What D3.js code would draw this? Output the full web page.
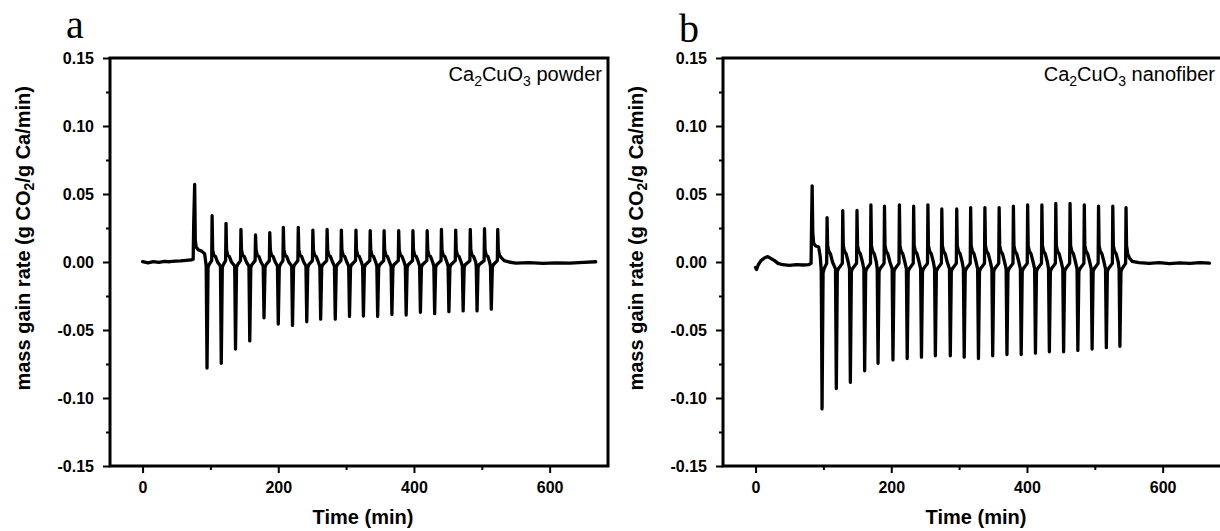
<!DOCTYPE html>
<html>
<head>
<meta charset="utf-8">
<script src="https://cdn.jsdelivr.net/npm/d3@7/dist/d3.min.js"></script>
<style>
  html, body { margin: 0; padding: 0; background: #fff; }
  svg { display: block; }
</style>
</head>
<body>
<svg id="chart" width="1220" height="531"></svg>
<script>
// Axis ticks shared by both panels
const yTicks = [0.15, 0.10, 0.05, 0.00, -0.05, -0.10, -0.15];
const yTickLabels = ["0.15", "0.10", "0.05", "0.00", "-0.05", "-0.10", "-0.15"];
const yMinorTicks = [0.125, 0.075, 0.025, -0.025, -0.075, -0.125];
const xTicks = [0, 200, 400, 600];
const xTickLabels = ["0", "200", "400", "600"];
const xMinorTicks = [100, 300, 500];

const panelLetters = ["a", "b"];
const sampleForms = ["powder", "nanofiber"];

// Ca2CuO3 powder: [time (min), mass gain rate (g CO2 / g Ca / min)]
const powderTrace = [
  [0,0.0003],[8,-0.0006],[16,0.0002],[24,-0.0003],[32,0.0004],[40,0.0002],[48,0.0006],[56,0.0008],[64,0.0012],[72,0.0015],
  [74.6,0.002],[75.4,0.029],[76.8,0.057],[77.7,0.016],[79,0.011],[82,0.009],[87,0.008],[91.5,0.006],
  [93.8,-0.003],[95,-0.078],[96.5,-0.004],[98,-0.002],[101.9,0.001],[102.5,0.034],[103.3,0.009],[105,0.005],[107.5,0.004],[110.5,0],
  [114.8,-0.003],[116,-0.0745],[117.5,-0.004],[119,-0.002],[122.4,0.001],[123,0.0284],[123.8,0.009],[125.5,0.005],[128,0.004],[131,0],
  [135.8,-0.003],[137,-0.064],[138.5,-0.004],[140,-0.002],[144.4,0.001],[145,0.024],[145.8,0.009],[147.5,0.005],[150,0.004],[153,0],
  [156.8,-0.003],[158,-0.058],[159.5,-0.004],[161,-0.002],[165.9,0.001],[166.5,0.0199],[167.3,0.009],[169,0.005],[171.5,0.004],[174.5,0],
  [177.8,-0.003],[179,-0.041],[180.5,-0.004],[182,-0.002],[186.9,0.001],[187.5,0.0216],[188.3,0.009],[190,0.005],[192.5,0.004],[195.5,0],
  [198.8,-0.003],[200,-0.0456],[201.5,-0.004],[203,-0.002],[206.9,0.001],[207.5,0.0255],[208.3,0.009],[210,0.005],[212.5,0.004],[215.5,0],
  [219.8,-0.003],[221,-0.0466],[222.5,-0.004],[224,-0.002],[228.9,0.001],[229.5,0.0255],[230.3,0.009],[232,0.005],[234.5,0.004],[237.5,0],
  [240.8,-0.003],[242,-0.044],[243.5,-0.004],[245,-0.002],[250.4,0.001],[251,0.0235],[251.8,0.009],[253.5,0.005],[256,0.004],[259,0],
  [261.3,-0.003],[262.5,-0.042],[264,-0.004],[265.5,-0.002],[271.4,0.001],[272,0.024],[272.8,0.009],[274.5,0.005],[277,0.004],[280,0],
  [282.8,-0.003],[284,-0.042],[285.5,-0.004],[287,-0.002],[292.4,0.001],[293,0.0235],[293.8,0.009],[295.5,0.005],[298,0.004],[301,0],
  [303.8,-0.003],[305,-0.040],[306.5,-0.004],[308,-0.002],[313.9,0.001],[314.5,0.0235],[315.3,0.009],[317,0.005],[319.5,0.004],[322.5,0],
  [324.3,-0.003],[325.5,-0.0397],[327,-0.004],[328.5,-0.002],[334.9,0.001],[335.5,0.023],[336.3,0.009],[338,0.005],[340.5,0.004],[343.5,0],
  [345.3,-0.003],[346.5,-0.040],[348,-0.004],[349.5,-0.002],[355.4,0.001],[356,0.023],[356.8,0.009],[358.5,0.005],[361,0.004],[364,0],
  [366.3,-0.003],[367.5,-0.0385],[369,-0.004],[370.5,-0.002],[376.9,0.001],[377.5,0.023],[378.3,0.009],[380,0.005],[382.5,0.004],[385.5,0],
  [387.3,-0.003],[388.5,-0.039],[390,-0.004],[391.5,-0.002],[397.9,0.001],[398.5,0.023],[399.3,0.009],[401,0.005],[403.5,0.004],[406.5,0],
  [408.3,-0.003],[409.5,-0.037],[411,-0.004],[412.5,-0.002],[418.9,0.001],[419.5,0.023],[420.3,0.009],[422,0.005],[424.5,0.004],[427.5,0],
  [429.3,-0.003],[430.5,-0.038],[432,-0.004],[433.5,-0.002],[439.9,0.001],[440.5,0.024],[441.3,0.009],[443,0.005],[445.5,0.004],[448.5,0],
  [450.3,-0.003],[451.5,-0.0365],[453,-0.004],[454.5,-0.002],[460.9,0.001],[461.5,0.0235],[462.3,0.009],[464,0.005],[466.5,0.004],[469.5,0],
  [471.3,-0.003],[472.5,-0.036],[474,-0.004],[475.5,-0.002],[482.4,0.001],[483,0.024],[483.8,0.009],[485.5,0.005],[488,0.004],[491,0],
  [491.8,-0.003],[493,-0.036],[494.5,-0.004],[496,-0.002],[503.4,0.001],[504,0.0245],[504.8,0.009],[506.5,0.005],[509,0.004],[511.5,0],
  [512.8,-0.003],[514,-0.0347],[515.5,-0.004],[517,-0.002],[522.9,0.001],[523.5,0.024],[524.3,0.009],[526,0.005],[529,0.003],[533,0.001],
  [540,0],[550,-0.0008],[570,-0.0005],[590,-0.001],[610,-0.0006],[630,-0.0008],[650,-0.0003],[668,0.0002]
];

// Ca2CuO3 nanofiber: [time (min), mass gain rate (g CO2 / g Ca / min)]
const nanofiberTrace = [
  [0,-0.004],[1.5,-0.0055],[4,-0.002],[8,0.001],[13,0.003],[18,0.004],[23,0.0025],[28,0.001],[33,-0.001],[40,-0.002],
  [50,-0.0025],[60,-0.002],[70,-0.0022],[78,-0.002],[81.8,-0.001],[82.6,0.03],[83.4,0.056],[84.3,0.022],[85.5,0.014],[88,0.012],[93,0.011],[95.3,0.004],
  [96.8,-0.006],[98,-0.108],[99.5,-0.008],[101,-0.005],[104.8,-0.001],[105.4,0.0326],[106.2,0.012],[107.9,0.008],[110.4,0.006],[113.4,0],
  [117.8,-0.005],[119,-0.093],[120.5,-0.007],[122,-0.005],[127.9,-0.001],[128.5,0.0377],[129.3,0.012],[131,0.008],[133.5,0.006],[136.5,0],
  [138.5,-0.005],[139.7,-0.0885],[141.2,-0.007],[142.7,-0.005],[148.9,-0.001],[149.5,0.0379],[150.3,0.012],[152,0.008],[154.5,0.006],[157.5,0],
  [159.6,-0.005],[160.8,-0.080],[162.3,-0.007],[163.8,-0.005],[169.4,-0.001],[170,0.042],[170.8,0.012],[172.5,0.008],[175,0.006],[178,0],
  [179.3,-0.005],[180.5,-0.0745],[182,-0.007],[183.5,-0.005],[189.4,-0.001],[190,0.041],[190.8,0.012],[192.5,0.008],[195,0.006],[198,0],
  [201.3,-0.005],[202.5,-0.072],[204,-0.007],[205.5,-0.005],[211.4,-0.001],[212,0.042],[212.8,0.012],[214.5,0.008],[217,0.006],[220,0],
  [222.3,-0.005],[223.5,-0.071],[225,-0.007],[226.5,-0.005],[232.4,-0.001],[233,0.041],[233.8,0.012],[235.5,0.008],[238,0.006],[241,0],
  [243.3,-0.005],[244.5,-0.070],[246,-0.007],[247.5,-0.005],[253.4,-0.001],[254,0.042],[254.8,0.012],[256.5,0.008],[259,0.006],[262,0],
  [263.8,-0.005],[265,-0.069],[266.5,-0.007],[268,-0.005],[273.9,-0.001],[274.5,0.039],[275.3,0.012],[277,0.008],[279.5,0.006],[282.5,0],
  [285.8,-0.005],[287,-0.069],[288.5,-0.007],[290,-0.005],[295.9,-0.001],[296.5,0.039],[297.3,0.012],[299,0.008],[301.5,0.006],[304.5,0],
  [306.3,-0.005],[307.5,-0.070],[309,-0.007],[310.5,-0.005],[316.4,-0.001],[317,0.040],[317.8,0.012],[319.5,0.008],[322,0.006],[325,0],
  [327.3,-0.005],[328.5,-0.071],[330,-0.007],[331.5,-0.005],[337.4,-0.001],[338,0.040],[338.8,0.012],[340.5,0.008],[343,0.006],[346,0],
  [348.3,-0.005],[349.5,-0.069],[351,-0.007],[352.5,-0.005],[358.4,-0.001],[359,0.040],[359.8,0.012],[361.5,0.008],[364,0.006],[367,0],
  [369.3,-0.005],[370.5,-0.068],[372,-0.007],[373.5,-0.005],[379.4,-0.001],[380,0.041],[380.8,0.012],[382.5,0.008],[385,0.006],[388,0],
  [390.3,-0.005],[391.5,-0.068],[393,-0.007],[394.5,-0.005],[400.4,-0.001],[401,0.042],[401.8,0.012],[403.5,0.008],[406,0.006],[409,0],
  [411.3,-0.005],[412.5,-0.067],[414,-0.007],[415.5,-0.005],[421.4,-0.001],[422,0.042],[422.8,0.012],[424.5,0.008],[427,0.006],[430,0],
  [431.8,-0.005],[433,-0.066],[434.5,-0.007],[436,-0.005],[441.9,-0.001],[442.5,0.043],[443.3,0.012],[445,0.008],[447.5,0.006],[450.5,0],
  [452.8,-0.005],[454,-0.066],[455.5,-0.007],[457,-0.005],[462.9,-0.001],[463.5,0.043],[464.3,0.012],[466,0.008],[468.5,0.006],[471.5,0],
  [473.8,-0.005],[475,-0.065],[476.5,-0.007],[478,-0.005],[483.9,-0.001],[484.5,0.042],[485.3,0.012],[487,0.008],[489.5,0.006],[492.5,0],
  [494.8,-0.005],[496,-0.064],[497.5,-0.007],[499,-0.005],[504.9,-0.001],[505.5,0.041],[506.3,0.012],[508,0.008],[510.5,0.006],[513.5,0],
  [515.8,-0.005],[517,-0.063],[518.5,-0.007],[520,-0.005],[525.9,-0.001],[526.5,0.041],[527.3,0.012],[529,0.008],[531.5,0.006],[534.5,0],
  [535.8,-0.005],[537,-0.062],[538.5,-0.007],[540,-0.005],[545.4,-0.001],[546,0.040],[546.8,0.012],[548.5,0.006],[551,0.003],[555,0.0005],
  [565,-0.0005],[580,-0.001],[595,-0.0005],[610,-0.0012],[625,-0.0006],[640,-0.001],[655,-0.0005],[669,-0.0008]
];

const SANS = "'Liberation Sans', Arial, sans-serif";
const SERIF = "'Liberation Serif', 'Times New Roman', serif";

const svg = d3.select("#chart");

const panels = [
  { left: 110, right: 608,  top: 58, bottom: 466, xDomain: [-48, 686],   trace: powderTrace },
  { left: 723, right: 1224, top: 58, bottom: 466, xDomain: [-48, 690.4], trace: nanofiberTrace }
];

panels.forEach((p, i) => {
  const x = d3.scaleLinear().domain(p.xDomain).range([p.left, p.right]);
  const y = d3.scaleLinear().domain([-0.15, 0.15]).range([p.bottom, p.top]);
  const g = svg.append("g");

  const clipId = "plot-clip-" + i;
  svg.append("clipPath").attr("id", clipId)
    .append("rect")
    .attr("x", p.left).attr("y", p.top)
    .attr("width", p.right - p.left).attr("height", p.bottom - p.top);

  // measured trace
  const line = d3.line().x(d => x(d[0])).y(d => y(d[1]));
  g.append("path")
    .datum(p.trace)
    .attr("clip-path", `url(#${clipId})`)
    .attr("d", line)
    .attr("fill", "none")
    .attr("stroke", "#000")
    .attr("stroke-width", 3.3)
    .attr("stroke-linejoin", "round")
    .attr("stroke-linecap", "round");

  // minor ticks
  const yMinor = g.append("g").attr("transform", `translate(${p.left},0)`)
    .call(d3.axisLeft(y).tickValues(yMinorTicks).tickSize(4).tickFormat(""));
  const xMinor = g.append("g").attr("transform", `translate(0,${p.bottom})`)
    .call(d3.axisBottom(x).tickValues(xMinorTicks).tickSize(4).tickFormat(""));

  // major ticks and labels
  const yAxis = g.append("g").attr("transform", `translate(${p.left},0)`)
    .call(d3.axisLeft(y).tickValues(yTicks).tickSize(7).tickPadding(9)
      .tickFormat((d, k) => yTickLabels[k]));
  const xAxis = g.append("g").attr("transform", `translate(0,${p.bottom})`)
    .call(d3.axisBottom(x).tickValues(xTicks).tickSize(7).tickPadding(9)
      .tickFormat((d, k) => xTickLabels[k]));

  [yMinor, xMinor, yAxis, xAxis].forEach(a => {
    a.select(".domain").remove();
    a.selectAll(".tick line").attr("stroke", "#000").attr("stroke-width", 2);
    a.selectAll(".tick text")
      .attr("fill", "#000")
      .style("font-family", SANS)
      .style("font-weight", "bold")
      .style("font-size", "16px");
  });

  // frame
  g.append("rect")
    .attr("x", p.left).attr("y", p.top)
    .attr("width", p.right - p.left).attr("height", p.bottom - p.top)
    .attr("fill", "none").attr("stroke", "#000").attr("stroke-width", 3);

  // x-axis title
  g.append("text")
    .attr("x", (p.left + p.left + 498) / 2 + 4)
    .attr("y", 524)
    .attr("text-anchor", "middle")
    .style("font-family", SANS).style("font-weight", "bold").style("font-size", "20px")
    .text("Time (min)");

  // y-axis title with CO2 subscript, running up to just below the panel letter
  const yt = g.append("text")
    .attr("transform", `translate(${p.left - 80},86) rotate(-90)`)
    .attr("text-anchor", "end")
    .style("font-family", SANS).style("font-weight", "bold").style("font-size", "20px");
  yt.append("tspan").text("mass gain rate (g CO");
  yt.append("tspan").attr("dy", 4).style("font-size", "14px").text("2");
  yt.append("tspan").attr("dy", -4).text("/g Ca/min)");

  // panel letter
  g.append("text")
    .attr("x", p.left - 44)
    .attr("y", i === 0 ? 38 : 42)
    .style("font-family", SERIF).style("font-size", "40px")
    .text(panelLetters[i]);

  // sample label, Ca2CuO3 with subscripts
  const lab = g.append("text")
    .attr("x", p.left + 492)
    .attr("y", 81)
    .attr("text-anchor", "end")
    .style("font-family", SANS).style("font-size", "20px");
  lab.append("tspan").text("Ca");
  lab.append("tspan").attr("dy", 5).style("font-size", "14px").text("2");
  lab.append("tspan").attr("dy", -5).text("CuO");
  lab.append("tspan").attr("dy", 5).style("font-size", "14px").text("3");
  lab.append("tspan").attr("dy", -5).text(" " + sampleForms[i]);
});
</script>
</body>
</html>
